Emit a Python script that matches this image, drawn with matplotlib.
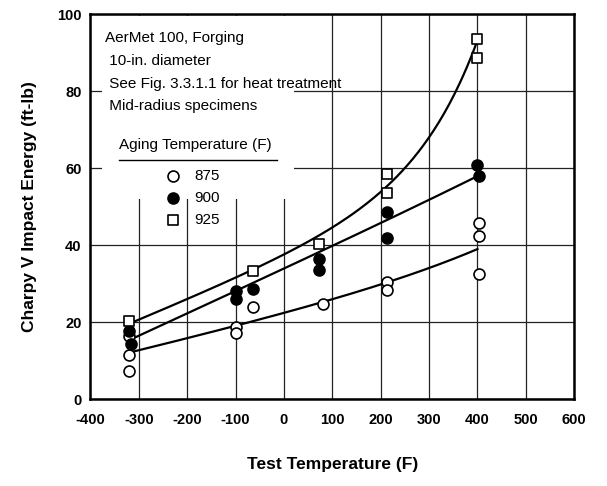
import numpy as np
import matplotlib.pyplot as plt
from matplotlib.patches import Rectangle
from matplotlib.lines import Line2D

plt.rcParams['font.family'] = ['Liberation Sans', 'DejaVu Sans']
plt.rcParams['axes.unicode_minus'] = False

# Charpy V impact energy, AerMet 100 forging, by aging temperature
t875 = [-320, -320, -320, -100, -100, -65, 80, 212, 212, 403, 403, 403]
e875 = [16.4, 11.4, 7.4, 18.8, 17.1, 23.8, 24.6, 30.5, 28.3, 45.8, 42.3, 32.5]

t900 = [-320, -316, -100, -100, -65, 72, 72, 212, 212, 400, 404]
e900 = [17.7, 14.3, 28.1, 26.1, 28.5, 36.5, 33.5, 48.5, 41.9, 60.8, 57.9]

t925 = [-320, -65, 72, 212, 212, 400, 400]
e925 = [20.2, 33.2, 40.4, 58.4, 53.6, 93.4, 88.5]

# trend curves, points
fit875_t = [-320, -100, 80, 210, 400]
fit875_e = [12.0, 19.3, 24.7, 30.5, 38.9]
fit900_t = [-320, -50, 72, 400]
fit900_e = [15.3, 30.9, 38.2, 57.9]
fit925_t = [-320, -100, -65, 67, 136, 205, 267, 301, 363, 400]
fit925_e = [20.5, 31.7, 33.2, 39.6, 47.1, 54.3, 63.8, 69.9, 82.9, 91.5]

xticks = list(range(-400, 601, 100))
yticks = list(range(0, 101, 20))

fig = plt.figure(figsize=(6.07, 4.86), dpi=100)
ax = fig.add_axes([0.149, 0.179, 0.797, 0.792])
ax.set_xlim(-400, 600)
ax.set_ylim(0, 100)
ax.set_xticks(xticks)
ax.set_yticks(yticks)
ax.grid(True, color='#222222', linewidth=0.9)
ax.set_axisbelow(True)
ax.tick_params(length=0, labelsize=10.5)
ax.tick_params(axis='x', pad=10)
ax.tick_params(axis='y', pad=6.5)
for lab in ax.get_xticklabels() + ax.get_yticklabels():
    lab.set_fontweight('bold')
for sp in ax.spines.values():
    sp.set_linewidth(1.8)

# white area behind the notes
ax.add_patch(Rectangle((-376, 52), 396, 47.5, facecolor='white',
                       edgecolor='none', zorder=1.5))


def trend(ft, fe, k):
    # least squares on 1, t, exp(k t)
    ft = np.asarray(ft, float)
    A = np.column_stack([np.ones_like(ft), ft, np.exp(k * ft)])
    c = np.linalg.lstsq(A, np.asarray(fe, float), rcond=None)[0]
    tt = np.linspace(ft.min(), ft.max(), 200)
    return tt, c[0] + c[1] * tt + c[2] * np.exp(k * tt)


for ft, fe, k in [(fit875_t, fit875_e, 0.004), (fit900_t, fit900_e, 0.004),
                  (fit925_t, fit925_e, 0.008)]:
    tt, ee = trend(ft, fe, k)
    ax.plot(tt, ee, color='black', linewidth=1.6, zorder=3)

mk = dict(s=62, linewidths=1.2, zorder=4)
h875 = ax.scatter(t875, e875, marker='o', facecolor='white', edgecolor='black', label='875', **mk)
h900 = ax.scatter(t900, e900, marker='o', facecolor='black', edgecolor='black', label='900', **mk)
h925 = ax.scatter(t925, e925, marker='s', facecolor='white', edgecolor='black', label='925',
                  s=58, linewidths=1.2, zorder=4)

notes = ['AerMet 100, Forging', ' 10-in. diameter',
         ' See Fig. 3.3.1.1 for heat treatment', ' Mid-radius specimens']
for i, line in enumerate(notes):
    ax.text(0.031, 0.937 - i * 0.059, line, transform=ax.transAxes,
            fontsize=11, va='center', ha='left', zorder=5)

ax.text(0.058, 0.66, 'Aging Temperature (F)', transform=ax.transAxes,
        fontsize=11, va='center', ha='left', zorder=5)
ax.add_line(Line2D([0.058, 0.385], [0.621, 0.621], transform=ax.transAxes,
                   color='black', linewidth=1.0, zorder=5))

leg = ax.legend(handles=[h875, h900, h925], loc='upper left',
                bbox_to_anchor=(0.155, 0.597), frameon=False, fontsize=11,
                handlelength=1.0, handletextpad=0.9, labelspacing=0.52,
                borderpad=0, borderaxespad=0)
leg.set_zorder(5)

ax.set_xlabel('Test Temperature (F)', fontsize=12.5, fontweight='bold', labelpad=22)
ax.set_ylabel('Charpy V Impact Energy (ft-lb)', fontsize=12.5, fontweight='bold', labelpad=14)

fig.savefig('out.png', dpi=100)
